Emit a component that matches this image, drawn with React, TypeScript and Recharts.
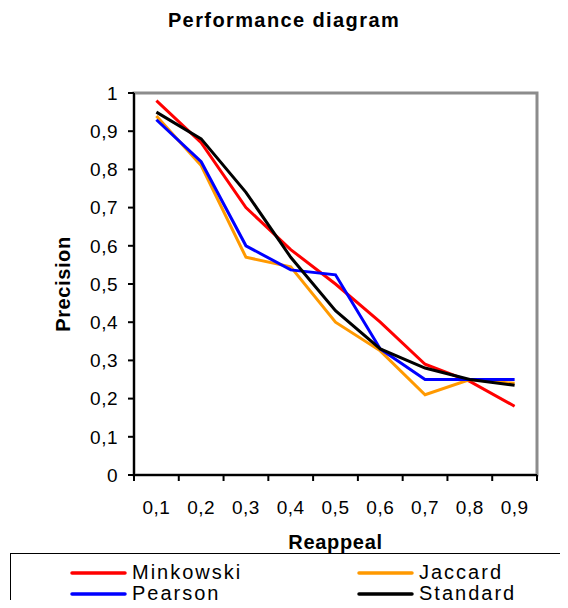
import React from 'react';
import { LineChart, Line, XAxis, YAxis, Legend, ReferenceArea } from 'recharts';

const FONT = '"Liberation Sans", Arial, sans-serif';

const categories = ['0,1', '0,2', '0,3', '0,4', '0,5', '0,6', '0,7', '0,8', '0,9'];
const minkowski = [0.98, 0.87, 0.70, 0.59, 0.50, 0.40, 0.29, 0.245, 0.18];
const jaccard = [0.94, 0.81, 0.57, 0.545, 0.40, 0.325, 0.21, 0.25, 0.24];
const pearson = [0.93, 0.82, 0.60, 0.537, 0.524, 0.33, 0.25, 0.25, 0.25];
const standard = [0.95, 0.88, 0.74, 0.57, 0.43, 0.33, 0.28, 0.25, 0.235];

const yTicks = [0, 0.1, 0.2, 0.3, 0.4, 0.5, 0.6, 0.7, 0.8, 0.9, 1];
const xTicks = [0.5, 1, 1.5, 2, 2.5, 3, 3.5, 4, 4.5, 5, 5.5, 6, 6.5, 7, 7.5, 8, 8.5, 9, 9.5];

const seriesList = [
  { name: 'Minkowski', color: '#FF0000' },
  { name: 'Jaccard', color: '#FF9900' },
  { name: 'Pearson', color: '#0000FF' },
  { name: 'Standard', color: '#000000' },
];

const data = categories.map((c, i) => ({
  x: i + 1,
  label: c,
  Minkowski: minkowski[i],
  Jaccard: jaccard[i],
  Pearson: pearson[i],
  Standard: standard[i],
}));

const XTick = (props: any) => {
  const { x, y, payload } = props;
  const v = payload.value;
  if (Number.isInteger(v)) {
    return (
      <text x={x} y={y + 26} dy="0.71em" textAnchor="middle" fontSize={19} fill="#000" fontFamily={FONT} letterSpacing={0.5}>
        {categories[v - 1]}
      </text>
    );
  }
  return <line x1={x} x2={x} y1={y} y2={y + 6} stroke="#000" strokeWidth={2} />;
};

const LegendBox = () => (
  <div
    style={{
      position: 'relative',
      width: 558,
      height: 55,
      borderTop: '1px solid #000',
      borderLeft: '1px solid #000',
      boxSizing: 'border-box',
      fontFamily: FONT,
      fontSize: 20,
      letterSpacing: 2,
      color: '#000',
    }}
  >
    {seriesList.map((s, i) => {
      const col = i % 2;
      const row = Math.floor(i / 2);
      const left = col === 0 ? 59 : 346;
      const top = row === 0 ? 8 : 29;
      return (
        <div key={s.name} style={{ position: 'absolute', left, top, height: 21, display: 'flex', alignItems: 'center', whiteSpace: 'nowrap' }}>
          <svg width={57} height={6} style={{ display: 'block' }}>
            <line x1={2} x2={55} y1={3} y2={3} stroke={s.color} strokeWidth={3.5} strokeLinecap="round" />
          </svg>
          <span style={{ marginLeft: 5, lineHeight: '21px' }}>{s.name}</span>
        </div>
      );
    })}
  </div>
);

export default function App() {
  return (
    <div style={{ width: 560, height: 600, marginBottom: -8, overflow: 'hidden' }}>
      <LineChart
        width={560}
        height={600}
        data={data}
        margin={{ top: 85, right: 31, bottom: 53, left: 0 }}
        style={{ fontFamily: FONT }}
      >
        <text x={276} y={19} textAnchor="middle" fontFamily={FONT} fontSize={20} fontWeight="bold" letterSpacing={1.4} fill="#000">
          Performance diagram
        </text>
        <ReferenceArea y1={0} y2={1} fill="none" stroke="#8c8c8c" strokeWidth={3} ifOverflow="visible" />
        <XAxis
          dataKey="x"
          type="number"
          domain={[0.5, 9.5]}
          ticks={xTicks}
          interval={0}
          tickSize={0}
          tickMargin={0}
          tickLine={false}
          tick={<XTick />}
          axisLine={{ stroke: '#000', strokeWidth: 2 }}
          height={80}
          label={{
            value: 'Reappeal',
            position: 'insideBottom',
            offset: 6,
            style: { fontFamily: FONT, fontSize: 20, fontWeight: 'bold', fill: '#000', letterSpacing: 0.7 },
          }}
        />
        <YAxis
          type="number"
          domain={[0, 1]}
          ticks={yTicks}
          interval={0}
          width={126}
          tickSize={6}
          tickMargin={10}
          tickFormatter={(v: number) => String(v).replace('.', ',')}
          tick={{ fontSize: 19, fill: '#000', fontFamily: FONT, letterSpacing: 0.5 }}
          tickLine={{ stroke: '#000', strokeWidth: 2 }}
          axisLine={{ stroke: '#000', strokeWidth: 2 }}
          label={{
            value: 'Precision',
            angle: -90,
            position: 'insideLeft',
            offset: 55,
            style: { textAnchor: 'middle', fontFamily: FONT, fontSize: 20, fontWeight: 'bold', fill: '#000', letterSpacing: 0.6 },
          }}
        />
        {seriesList.map((s) => (
          <Line
            key={s.name}
            type="linear"
            dataKey={s.name}
            stroke={s.color}
            strokeWidth={3}
            dot={false}
            activeDot={false}
            isAnimationActive={false}
          />
        ))}
        <Legend
          layout="vertical"
          align="center"
          verticalAlign="middle"
          content={<LegendBox />}
          wrapperStyle={{ left: 2, top: 545, width: 558, height: 55 }}
        />
      </LineChart>
    </div>
  );
}
